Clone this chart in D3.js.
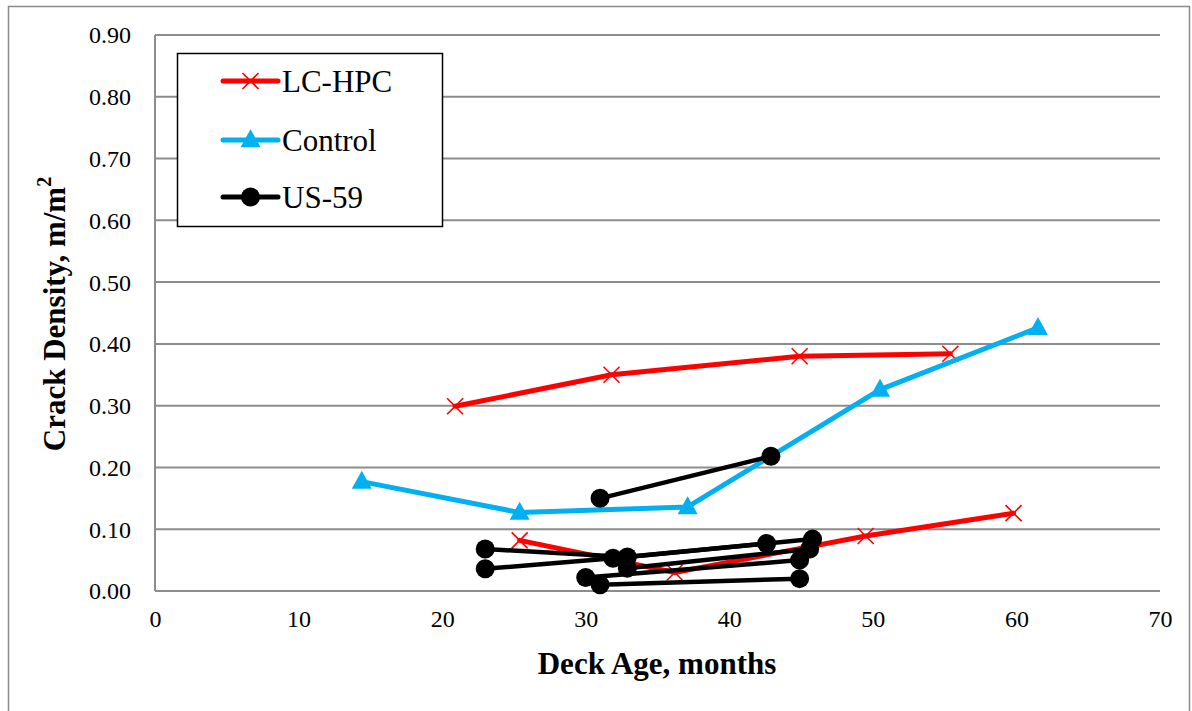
<!DOCTYPE html>
<html>
<head>
<meta charset="utf-8">
<script src="https://cdn.jsdelivr.net/npm/d3@7"></script>
<style>
  html, body { margin: 0; padding: 0; background: #fff; }
  svg { display: block; }
  svg text { font-family: "Liberation Serif", "Times New Roman", serif !important; fill: #000; }
</style>
</head>
<body>
<div id="chart"></div>
<script>
// ---- Data ----
const xTicks = [0, 10, 20, 30, 40, 50, 60, 70];
const yTicks = [0, 0.1, 0.2, 0.3, 0.4, 0.5, 0.6, 0.7, 0.8, 0.9];

const seriesNames = ["LC-HPC", "Control", "US-59"];
const seriesColors = ["#FF0000", "#00B0F0", "#000000"];

// LC-HPC decks
const lchpcAges = [[20.9, 31.8, 44.9, 55.4], [25.4, 36.2, 49.5, 59.8]];
const lchpcDensities = [[0.299, 0.350, 0.380, 0.384], [0.082, 0.030, 0.089, 0.126]];

// Control deck
const controlAges = [[14.4, 25.4, 37.1, 50.5, 61.5]];
const controlDensities = [[0.177, 0.127, 0.136, 0.326, 0.426]];

// US-59 decks
const us59Ages = [[31.0, 42.9], [23.0, 32.9, 42.6], [23.0, 31.9, 45.8], [32.9, 45.6], [30.0, 44.9], [31.0, 44.9]];
const us59Densities = [[0.150, 0.218], [0.068, 0.055, 0.077], [0.036, 0.053, 0.084], [0.037, 0.068], [0.022, 0.050], [0.010, 0.020]];

// ---- Layout ----
const W = 1192, H = 711;
const FONT = '"Liberation Serif", "Times New Roman", serif';
const svg = d3.select("#chart").append("svg").attr("width", W).attr("height", H);

// outer chart border
svg.append("rect").attr("x", 8.5).attr("y", 6.5).attr("width", 1181).attr("height", 720)
  .attr("fill", "none").attr("stroke", "#8a8a8a").attr("stroke-width", 1.5);

const x = d3.scaleLinear().domain([0, 70]).range([155, 1160]);
const y = d3.scaleLinear().domain([0, 0.9]).range([591, 35]);

// gridlines
svg.append("g").selectAll("line").data(yTicks.filter(d => d > 0)).join("line")
  .attr("x1", x(0)).attr("x2", x(70)).attr("y1", d => y(d)).attr("y2", d => y(d))
  .attr("stroke", "#8c8c8c").attr("stroke-width", 2);

// axes lines
svg.append("line").attr("x1", x(0)).attr("x2", x(0)).attr("y1", y(0.9)).attr("y2", y(0))
  .attr("stroke", "#8c8c8c").attr("stroke-width", 2);
svg.append("line").attr("x1", x(0)).attr("x2", x(70)).attr("y1", y(0)).attr("y2", y(0))
  .attr("stroke", "#8c8c8c").attr("stroke-width", 2);

// y axis labels
const yAxis = d3.axisLeft(y).tickValues(yTicks).tickFormat(d3.format(".2f")).tickSize(0).tickPadding(24);
const gy = svg.append("g").attr("transform", `translate(${x(0)},0)`).call(yAxis)
  .attr("font-family", FONT).attr("font-size", 24);
gy.select(".domain").remove();
gy.selectAll("text").style("font-family", FONT).style("font-size", "24px").attr("dy", "0.33em").attr("fill", "#000");

// x axis labels
const xAxis = d3.axisBottom(x).tickValues(xTicks).tickFormat(d3.format("d")).tickSize(0).tickPadding(19);
const gx = svg.append("g").attr("transform", `translate(0,${y(0)})`).call(xAxis)
  .attr("font-family", FONT).attr("font-size", 24);
gx.select(".domain").remove();
gx.selectAll("text").style("font-family", FONT).style("font-size", "24px").attr("fill", "#000");

// axis titles
svg.append("text").attr("x", 657).attr("y", 674).attr("text-anchor", "middle")
  .style("font-family", FONT).attr("font-size", 31).attr("font-weight", "bold").text("Deck Age, months");
const yt = svg.append("text").attr("transform", "translate(65,314) rotate(-90)").attr("text-anchor", "middle")
  .style("font-family", FONT).attr("font-size", 31).attr("font-weight", "bold");
yt.append("tspan").text("Crack Density, m/m");
yt.append("tspan").attr("font-size", 20).attr("dy", "-0.7em").text("2");

// ---- Markers ----
function drawMarker(g, type, cx, cy, color) {
  if (type === 0) {
    const s = 8;
    g.append("path").attr("d", `M${cx - s},${cy - s}L${cx + s},${cy + s}M${cx - s},${cy + s}L${cx + s},${cy - s}`)
      .attr("stroke", color).attr("stroke-width", 1.6).attr("fill", "none");
  } else if (type === 1) {
    const hw = 10, h = 18;
    g.append("path").attr("d", `M${cx},${cy - h * 0.6}L${cx + hw},${cy + h * 0.4}L${cx - hw},${cy + h * 0.4}Z`)
      .attr("fill", color);
  } else {
    g.append("circle").attr("cx", cx).attr("cy", cy).attr("r", 9.5).attr("fill", color);
  }
}

const line = d3.line().x(d => x(d[0])).y(d => y(d[1]));
const groups = [
  [lchpcAges, lchpcDensities],
  [controlAges, controlDensities],
  [us59Ages, us59Densities]
];

groups.forEach(([ages, dens], si) => {
  const g = svg.append("g");
  ages.forEach((arr, k) => {
    const pts = arr.map((a, i) => [a, dens[k][i]]);
    g.append("path").attr("d", line(pts)).attr("fill", "none")
      .attr("stroke", seriesColors[si]).attr("stroke-width", si === 2 ? 4.5 : 5)
      .attr("stroke-linejoin", "round").attr("stroke-linecap", "round");
    pts.forEach(p => drawMarker(g, si, x(p[0]), y(p[1]), seriesColors[si]));
  });
});

// ---- Legend ----
const lg = svg.append("g");
lg.append("rect").attr("x", 177.5).attr("y", 53.5).attr("width", 265).attr("height", 173)
  .attr("fill", "#fff").attr("stroke", "#000").attr("stroke-width", 1.5);
const rowY = [81, 140, 197];
seriesNames.forEach((name, i) => {
  lg.append("line").attr("x1", 223).attr("x2", 278).attr("y1", rowY[i]).attr("y2", rowY[i])
    .attr("stroke", seriesColors[i]).attr("stroke-width", 5).attr("stroke-linecap", "round");
  drawMarker(lg, i, 250.5, rowY[i], seriesColors[i]);
  lg.append("text").attr("x", 282).attr("y", rowY[i] + 11).style("font-family", FONT).attr("font-size", 31).text(name);
});
</script>
</body>
</html>
